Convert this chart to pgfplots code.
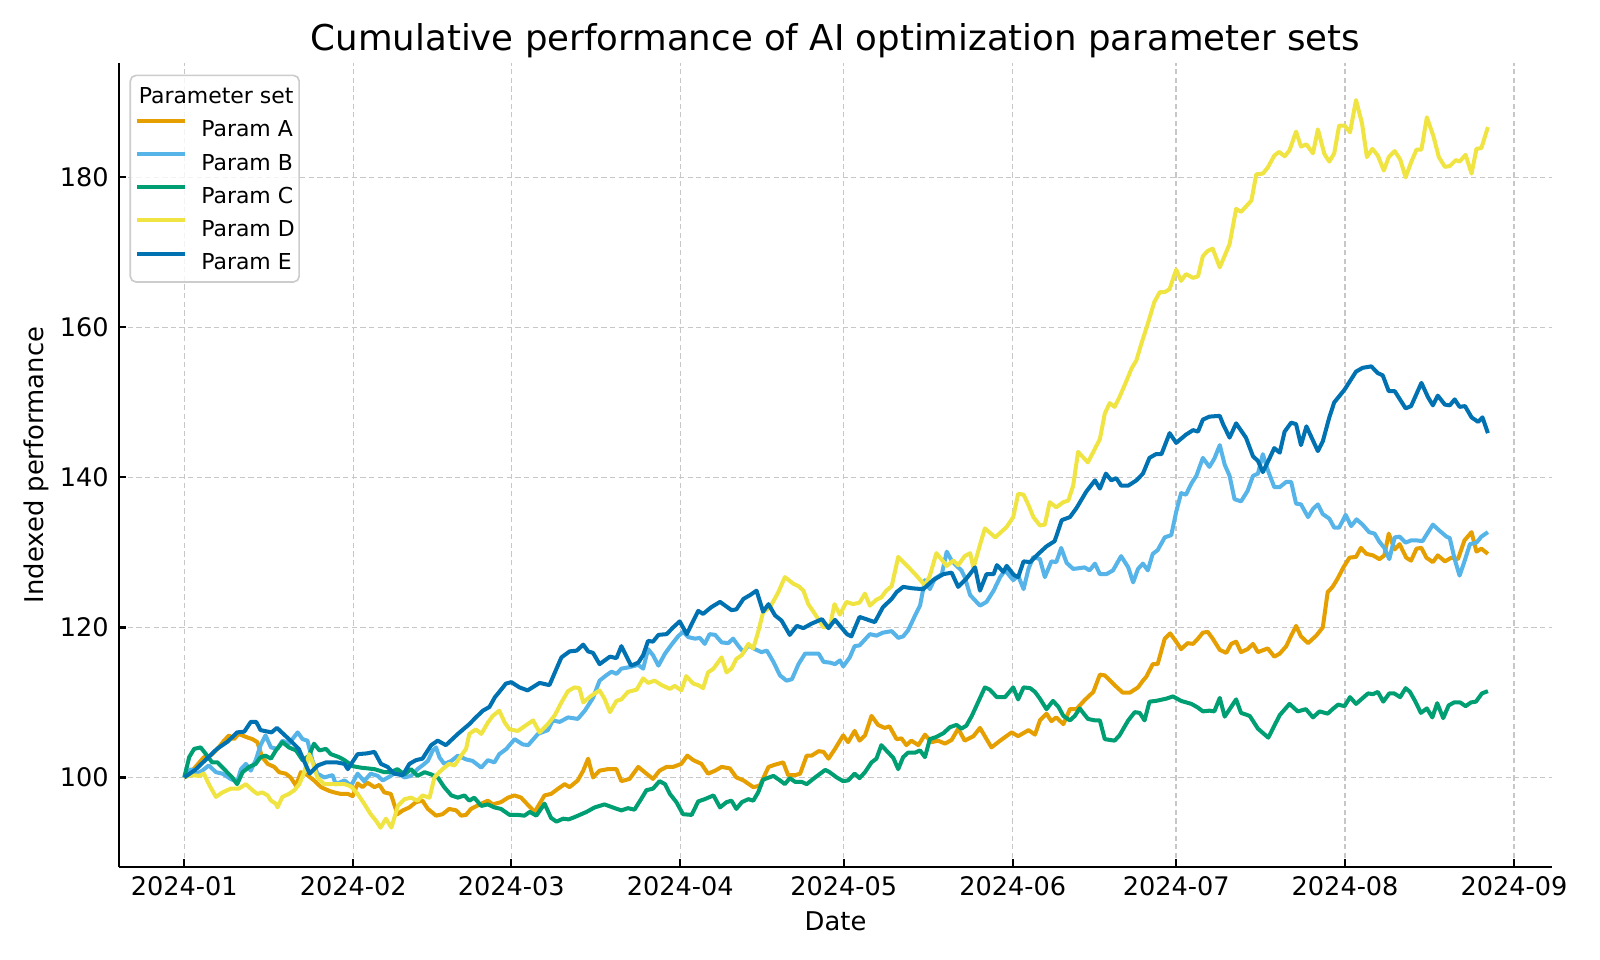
\documentclass[border=0pt]{standalone}
\usepackage{fontspec}
\setmainfont{DejaVu Sans}
\usepackage{pgfplots}
\pgfplotsset{compat=1.18}
\definecolor{cA}{HTML}{E69F00}
\definecolor{cB}{HTML}{56B4E9}
\definecolor{cC}{HTML}{009E73}
\definecolor{cD}{HTML}{F0E442}
\definecolor{cE}{HTML}{0072B2}
\begin{document}
\begin{tikzpicture}
\begin{axis}[
  scale only axis, width=515.8pt, height=289.2pt,
  xmin=-11.95, xmax=250.95, ymin=88.1, ymax=195.2,
  axis x line*=bottom, axis y line*=left,
  axis line style={-, line width=0.8pt, black},
  xtick={0,31,60,91,121,152,182,213,244},
  xticklabels={2024-01,2024-02,2024-03,2024-04,2024-05,2024-06,2024-07,2024-08,2024-09},
  ytick={100,120,140,160,180},
  /pgf/number format/assume math mode=true,
  tick align=inside, major tick length=2.6pt,
  tick style={black, line width=0.8pt},
  ticklabel style={font=\fontsize{9.2}{11}\selectfont, inner sep=0pt},
  xticklabel style={anchor=north, yshift=-3.35pt},
  yticklabel style={anchor=east, xshift=-3.6pt},
  grid=major,
  grid style={black!22, line width=0.5pt, dash pattern=on 1.9pt off 1.2pt},
  xlabel={Date}, ylabel={Indexed performance},
  label style={font=\fontsize{9.3}{11}\selectfont},
  xlabel style={at={(axis description cs:0.5,-0.0681)}, anchor=center},
  ylabel style={at={(axis description cs:-0.0576,0.5)}, anchor=center},
  title={Cumulative performance of AI optimization parameter sets},
  title style={font=\fontsize{12.8}{15}\selectfont, at={(axis description cs:0.5,1.0076)}, anchor=center},
  every axis plot/.append style={line width=1.45pt, line join=round},
  legend image code/.code={\draw[#1] (0pt,2.9pt) -- (17.3pt,2.9pt);},
  legend cell align=left,
  legend style={at={(axis description cs:0.0072,0.986)}, anchor=north west,
    draw=black!20, line width=0.6pt, rounded corners=2pt, fill=white, fill opacity=0.8, text opacity=1,
    font=\fontsize{7.9}{9.5}\selectfont,
    inner xsep=1.6pt, inner ysep=2.3pt, row sep=1.95pt, column sep=0pt,
    nodes={inner sep=0pt, text height=7.9pt, text depth=2.1pt},
    /tikz/every odd column/.append style={column sep=5.2pt}},
]
\addlegendimage{empty legend}
\addlegendentry{\hspace{-22.5pt}Parameter set}

\addplot[cA] coordinates {(0,100) (1.2,100.7) (2.3,101.6) (3.6,102.7) (4.8,102.9) (6.1,103.8) (7.3,104.9) (8.2,105.6) (9.1,105.1) (10,105.8) (11.3,105.4) (12.5,105.1) (13.4,104.7) (14.3,102.7) (15.3,101.8) (16.5,101.4) (17.4,100.7) (18.6,100.5) (19.5,100) (20.5,98.9) (21.4,100.7) (22.6,100.3) (23.8,99.6) (25.1,98.7) (26.6,98.2) (27.5,98) (28.7,97.8) (30,97.8) (30.9,97.5) (31.8,99.2) (32.7,98.7) (33.6,99.3) (34.9,98.7) (35.8,99) (36.7,98) (37.9,97.8) (39.1,95.1) (40.1,95.6) (41.3,96) (42.5,96.7) (43.7,96.9) (44.7,95.8) (46.2,94.9) (47.4,95.1) (48.6,95.8) (49.9,95.6) (50.8,94.9) (51.7,95) (52.6,95.8) (54.2,96.4) (55.7,96.9) (56.6,96.4) (58.1,96.7) (59.4,97.3) (60.6,97.6) (61.8,97.3) (63.1,96.3) (64.3,95.4) (66.1,97.6) (67.3,97.8) (68.6,98.5) (69.8,99.1) (70.7,98.7) (72.2,99.6) (73.2,100.9) (74.1,102.5) (75,100) (76.2,100.9) (77.7,101.1) (79.3,101.1) (80.2,99.5) (81.7,99.8) (83.3,101.4) (84.8,100.5) (86,99.8) (87.2,100.9) (88.5,101.4) (89.7,101.4) (91.2,101.8) (92.3,102.9) (93.4,102.3) (94.9,101.8) (96.1,100.5) (97.4,100.9) (98.6,101.4) (100.1,101.2) (101.3,100) (102.6,99.6) (104.4,98.7) (105.6,98.9) (107.2,101.4) (108.4,101.7) (109.9,102) (110.8,100.3) (112.1,100.3) (113,100.5) (114.2,102.9) (115.1,102.9) (116.4,103.5) (117.3,103.4) (118.2,102.5) (119.4,103.8) (120.9,105.6) (121.8,104.7) (123,106.2) (123.9,104.9) (124.9,105.6) (126.1,108.2) (127.3,107) (128.5,106.6) (129.4,106.8) (130.7,105.1) (131.6,105.2) (132.5,104.3) (133.4,104.9) (134.7,104.3) (135.9,105.7) (137.1,104.7) (138.3,104.9) (139.6,104.5) (140.8,105) (142,106.5) (143.2,104.9) (144.8,105.5) (146,106.6) (148.1,104) (149.7,104.9) (151.8,106) (153,105.5) (154.9,106.3) (156.1,105.7) (157,107.6) (158.2,108.5) (159.1,107.5) (160,108) (161.3,107.1) (162.5,109.1) (163.7,109.1) (165.2,110.3) (166.8,111.4) (168,113.7) (168.9,113.6) (170.7,112.3) (172.2,111.3) (173.5,111.3) (175,112) (175.9,112.9) (176.5,113.4) (177.7,115.1) (178.6,115.1) (179.9,118.5) (180.9,119.2) (182,118.1) (182.9,117.1) (184.1,117.9) (185.1,117.8) (186,118.5) (186.9,119.3) (187.8,119.4) (188.7,118.5) (190,117) (191.2,116.6) (192.1,117.8) (193,118.1) (193.9,116.7) (195.1,117.1) (196.1,117.8) (197,116.7) (198.8,117.2) (200,116.1) (201,116.5) (202.2,117.5) (203.1,118.9) (204,120.2) (204.9,118.8) (206.2,117.9) (207.7,118.9) (208.9,120) (209.8,124.7) (210.7,125.4) (211.7,126.6) (212.6,127.9) (213.8,129.3) (215,129.4) (215.9,130.6) (216.9,129.8) (218.1,129.6) (219.3,129.1) (220.2,129.6) (221,132.5) (222.1,130.4) (223,131.1) (224.2,129.3) (225.1,128.9) (226.1,130.5) (227,130.6) (227.9,129.3) (229.1,128.7) (230,129.6) (231.3,128.8) (232.5,129.3) (233.7,129.1) (234.9,131.6) (236.2,132.7) (237.1,130.1) (238,130.5) (239.2,129.8)};
\addlegendentry{Param A}

\addplot[cB] coordinates {(0,100) (1.2,101.1) (2.3,100.5) (3.3,100.9) (4.5,101.6) (5.8,100.7) (7,100.5) (8.5,99.8) (9.7,99.4) (10.4,101.1) (11.3,101.8) (12.2,100.9) (13.1,102.3) (14,104.3) (14.9,105.6) (15.9,104) (17.1,103.8) (18,104.9) (19.2,104.5) (20.8,106) (21.7,105.1) (22.6,104.9) (23.5,102.3) (24.4,100.5) (25.7,100) (27.2,100.3) (27.8,99.1) (29.4,99.6) (30.6,98.9) (31.8,100.5) (33,99.5) (34.2,100.5) (35.5,100.2) (36.4,99.6) (37.9,100.2) (38.8,100.7) (40.4,100) (41.6,100.2) (42.8,101.1) (43.7,101.6) (44.7,102.2) (45.6,103.6) (46.2,104) (46.8,102.7) (47.7,101.8) (49,102.2) (50.2,102.9) (51.7,102.4) (52.9,102.2) (54.5,101.3) (55.7,102.3) (56.9,102) (57.8,103.1) (59.1,103.8) (60.6,105.1) (62.1,104.4) (63.1,104.3) (64.9,105.8) (66.7,106.3) (67.6,107.6) (68.9,107.4) (70.4,108) (72.2,107.8) (73.5,108.9) (75,110.6) (76.2,112.9) (77.4,113.6) (78.4,114.1) (79.3,113.8) (80.2,114.5) (81.7,114.7) (83.3,115) (84.2,114.5) (85.1,117.1) (86,116.3) (87,114.9) (88.2,116.5) (89.4,117.7) (90.6,118.8) (91.5,119.4) (92.5,118.7) (93.7,118.5) (94.6,118.6) (95.5,117.8) (96.4,119.1) (97.4,119) (98.6,118) (99.8,117.9) (100.7,118.5) (101.6,117.6) (102.6,116.7) (103.5,117.6) (104.7,117.1) (105.9,116.7) (106.9,116.9) (108.1,115.4) (109.3,113.6) (110.5,112.9) (111.5,113.1) (112.7,115.1) (113.9,116.5) (115.1,116.5) (116.4,116.5) (117.3,115.4) (118.5,115.3) (119.4,115.1) (120.3,115.6) (120.9,114.8) (122.1,116) (123,117.5) (123.9,117.6) (125.8,119.1) (127,118.9) (128.2,119.3) (129.8,119.5) (131,118.6) (131.9,118.8) (132.8,119.6) (134.1,121.6) (135,122.9) (135.9,126.3) (136.8,125.1) (137.7,126.5) (139,127.1) (139.9,130.1) (140.8,128.9) (141.7,128.2) (142.6,127.6) (143.2,126.7) (144.2,124.3) (146,122.9) (147.2,123.4) (148.5,124.9) (149.7,126.7) (150.6,127.6) (152.1,126.3) (153,126.9) (154,125.1) (154.9,127.8) (155.8,129.4) (157,129.1) (157.9,126.7) (159.1,128.8) (160,128.7) (160.9,130.6) (161.9,128.6) (163.1,127.8) (164.3,127.9) (165.2,128) (166.1,127.6) (167.1,128.5) (168,127.1) (169.2,127.1) (170.4,127.6) (171.9,129.5) (173.2,128) (174.1,126) (175,127.8) (175.9,128.5) (176.8,127.6) (177.7,129.8) (178.6,130.3) (179.9,132) (181.1,132.3) (182,135.4) (182.9,137.9) (183.8,137.7) (184.8,139.2) (185.7,140.2) (186.9,142.6) (188.1,141.4) (189,142.5) (190,144.3) (190.9,141.7) (191.8,140.2) (192.7,137.1) (193.9,136.8) (195.1,138.2) (196.1,140.2) (197,140.5) (197.9,143.1) (198.8,141) (200,138.7) (201,138.7) (202.2,139.4) (203.1,139.4) (204,136.5) (204.9,136.4) (206.2,134.7) (207.1,135.8) (208,136.4) (208.9,135.1) (210.1,134.5) (211,133.3) (211.9,133.3) (213.1,135) (214.1,133.5) (215.1,134.4) (216.2,133.7) (217.4,132.7) (218.4,132.5) (219.3,131.4) (220.2,130.6) (221.1,129.1) (222.1,132) (223,132.1) (224.1,131.3) (225.1,131.6) (226.1,131.6) (227.2,131.5) (229.1,133.7) (230.3,132.9) (231.6,132.1) (232.2,131.9) (233.1,129.1) (234,126.9) (234.9,128.8) (235.9,131.1) (237.1,131.3) (238,132.1) (239.2,132.7)};
\addlegendentry{Param B}

\addplot[cC] coordinates {(0,100) (0.9,102.7) (1.8,103.8) (3,104) (4.2,102.9) (5.1,102) (6.1,102) (7.3,101.1) (8.8,100) (9.7,99.1) (10.7,100.7) (11.9,101.4) (13.1,101.8) (14,102.7) (14.9,102.9) (15.9,102.5) (16.8,103.6) (18,104.7) (19.2,104) (20.5,103.6) (21.7,102.3) (22.9,102.9) (23.8,104.5) (24.8,103.6) (26,103.8) (26.9,103.1) (28.4,102.7) (29.4,102.3) (30.9,101.5) (32.4,101.3) (34.9,101.1) (36.7,100.7) (37.9,100.7) (39.1,101.1) (40.4,100.4) (41.6,101.1) (42.8,100.2) (44.1,100.7) (45.3,100.4) (46.5,100) (47.7,98.7) (49,97.6) (50.2,97.3) (51.4,97.6) (52.3,96.9) (53.2,97.3) (54.5,96.2) (55.7,96.4) (56.9,96) (58.1,95.8) (59.7,95) (61.2,95) (62.4,94.9) (63.4,95.4) (64.6,94.9) (66.1,96.5) (67.3,94.6) (68.3,94.1) (69.5,94.5) (70.5,94.4) (71.6,94.7) (73.8,95.4) (75.3,96) (77.1,96.4) (79,95.9) (80.2,95.6) (81.4,95.9) (82.6,95.7) (83.9,97.2) (84.8,98.3) (86,98.5) (87.2,99.5) (88.2,99.1) (89.1,97.8) (90.3,96.7) (91.5,95.1) (93.1,95) (94.3,96.8) (95.5,97.1) (97.1,97.6) (98.3,96) (99.5,96.7) (100.4,96.9) (101.3,95.8) (102.3,96.7) (103.5,97.1) (104.4,96.9) (105.3,98) (106.2,99.7) (108.1,100.2) (109.3,99.6) (110.2,99.1) (111.1,99.9) (112.1,99.4) (113.3,99.4) (114.2,99.1) (115.4,99.8) (117.6,101) (118.4,100.7) (119.7,100) (120.9,99.5) (121.8,99.6) (123,100.5) (123.9,99.9) (124.9,100.7) (126.1,102) (127,102.5) (127.9,104.3) (128.8,103.6) (130.1,102.6) (131,101.1) (131.9,102.7) (132.8,103.3) (134.1,103.3) (135,103.6) (135.9,102.7) (136.8,105.1) (138,105.4) (139.3,105.9) (140.5,106.7) (141.7,107) (142.6,106.5) (143.5,106.9) (144.5,108.2) (145.7,110.1) (146.9,112) (147.8,111.7) (149.1,110.7) (150.6,110.7) (152.1,112) (153,110.4) (154,112) (155.2,111.9) (156.1,111.4) (157,110.5) (158.2,109.1) (159.4,110.2) (160.4,109.4) (161.3,108.2) (162.5,107.6) (163.4,108.2) (164.3,109.2) (165.8,107.8) (167.1,107.6) (168,107.6) (168.9,105.1) (170.7,104.9) (171.6,105.6) (173.2,107.6) (174.4,108.7) (175.3,108.6) (176.2,107.6) (177.1,110.1) (178.3,110.2) (180.2,110.5) (181.4,110.8) (182.9,110.2) (184.8,109.8) (186,109.3) (186.9,108.8) (188.1,108.9) (189,108.8) (190,110.6) (190.9,108.1) (193,110.4) (193.9,108.6) (195.5,108.2) (197,106.5) (198.9,105.3) (201,108.3) (202.8,109.8) (204.3,108.8) (205.8,109.1) (207.1,108) (208.3,108.8) (209.8,108.5) (210.7,109.1) (211.7,109.7) (212.9,109.5) (213.9,110.7) (215,109.8) (217.2,111.2) (218.1,111.1) (219,111.4) (220,110.1) (221.1,111.2) (222,111.2) (223.1,110.7) (224.1,111.9) (224.9,111.4) (225.9,110.1) (226.9,108.6) (228,109.2) (229,108) (229.9,109.9) (231,107.9) (232,109.6) (233,110) (234.1,110) (235.1,109.5) (236.1,110) (237,110.1) (238.1,111.2) (239.2,111.5)};
\addlegendentry{Param C}

\addplot[cD] coordinates {(0,100) (1.2,100.3) (2.7,100.2) (3.6,100.5) (4.5,99.1) (5.8,97.4) (7,98) (8.5,98.5) (10,98.5) (11.3,99.1) (12.5,98.3) (13.4,97.8) (14.3,98) (15.3,97.6) (15.9,96.9) (16.8,96.5) (17.1,96) (18,97.4) (19.2,97.8) (20.2,98.3) (21.1,99.1) (22,100.7) (22.9,103.1) (23.5,102.1) (24.4,100) (25.7,99.1) (26.9,99.1) (28.1,99.1) (29.4,99.1) (30.6,98.8) (31.8,97.8) (33,96.5) (34.2,95.1) (35.2,94.2) (36,93.3) (37,94.5) (38,93.3) (39.2,96.2) (40.4,97.1) (41.6,97.3) (42.8,96.9) (43.7,97.6) (45,97.3) (45.9,100) (46.8,100.7) (47.7,101.3) (48.6,101.8) (49.6,101.6) (50.8,102.9) (51.7,103.8) (52.3,105.8) (53.5,106.4) (54.5,105.8) (55.7,107.3) (56.6,108.2) (57.8,108.9) (58.8,107.3) (59.7,106.4) (61.2,106.2) (62.4,106.8) (64,107.6) (65.2,106) (66.7,107.1) (68,108.3) (69.2,110) (70.4,111.5) (71.6,112) (72.5,111.9) (73.2,110) (74.7,110.9) (76.2,111.6) (77.1,110.5) (78.1,108.7) (79.3,110.2) (80.2,110.4) (81.4,111.4) (83,111.7) (84.2,113.2) (85.1,112.6) (86.3,112.9) (87.6,112.3) (89.1,111.8) (90,112.2) (91.2,111.6) (92.1,113.5) (93.4,112.5) (94.3,112.3) (95.2,111.9) (96.1,114) (97.1,114.5) (98.6,116) (99.5,114) (100.4,114.5) (101.3,115.8) (102.3,116.3) (103.5,117.8) (104.4,117.2) (105.3,119.4) (106.2,122) (107.5,122.7) (109,124.7) (110.2,126.7) (111.8,125.8) (112.7,125.5) (113.6,124.9) (114.5,123.1) (115.7,121.8) (117.3,120) (118.5,120.2) (119.3,123.1) (120.3,121.7) (121.5,123.4) (122.7,123.1) (123.9,123.3) (124.9,124.5) (125.8,122.9) (127,123.7) (127.9,124) (128.8,124.9) (129.8,125.5) (131,129.4) (132.5,128.3) (134.1,127.1) (135.9,125.6) (136.8,126.9) (138,129.9) (139.9,128.2) (141.1,128.9) (142,128.3) (143.2,129.5) (144.2,129.9) (144.8,127.9) (146,131) (146.9,133.2) (148.8,132) (150.9,133.4) (152.1,134.7) (153,137.8) (154,137.7) (154.9,136.3) (155.8,134.7) (157,133.6) (157.9,133.7) (158.8,136.7) (160,136) (161.3,136.7) (162.2,136.9) (163.1,138.9) (164,143.4) (165.8,142) (166.8,143.4) (168,145.1) (168.9,148.5) (169.8,149.9) (170.7,149.4) (171.6,150.7) (172.9,152.9) (173.8,154.5) (174.7,155.6) (175.6,157.8) (176.8,160.5) (178,163.4) (179,164.7) (179.9,164.7) (180.8,165.1) (182,167.7) (182.9,166.2) (183.8,167.1) (185.1,166.6) (186,166.8) (186.9,169.5) (187.8,170.2) (188.7,170.5) (190,168) (191.8,171.1) (193,175.8) (193.9,175.4) (195.8,176.9) (196.7,180.4) (197.9,180.5) (198.8,181.3) (200,182.9) (200.9,183.4) (201.9,182.8) (202.8,183.6) (204,186.1) (204.9,184.1) (205.9,184.4) (207.1,183.2) (208,186.4) (209.2,183.1) (210.1,182.1) (211,183.2) (211.9,186.9) (212.9,186.9) (213.9,186) (215,190.3) (216.1,187.2) (217,182.7) (218,183.8) (219,182.9) (220.1,180.9) (221,182.7) (222.1,183.5) (223.1,182.4) (224.1,180) (225.1,182) (226.1,183.7) (227,183.7) (228,188) (229.2,185.5) (230.2,182.7) (231.3,181.4) (232.2,181.5) (233.3,182.3) (234,182.1) (235.1,183) (236.2,180.5) (237.1,183.8) (238,183.9) (239.2,186.7)};
\addlegendentry{Param D}

\addplot[cE] coordinates {(0,100) (2,101) (4,102.4) (6,103.8) (8,104.8) (9.7,106) (11,106.1) (12.2,107.4) (13.2,107.4) (14,106.3) (16,106) (17,106.6) (19.5,104.9) (21,103.8) (23,100.5) (24.5,101.6) (26,102) (28,102) (29.4,101.8) (30,101.1) (31.8,103.1) (33.5,103.2) (34.9,103.4) (36.1,101.8) (37.3,101.4) (38.5,100.5) (40.1,100.3) (41.3,101.8) (42.5,102.3) (43.7,102.5) (45.3,104.3) (46.5,104.9) (48,104.3) (50.2,105.8) (52.3,107.1) (53.5,108) (54.8,108.9) (56,109.4) (57,110.7) (57.8,111.4) (59,112.5) (60,112.7) (61.5,112) (63,111.6) (65.2,112.6) (67,112.3) (68.3,114.5) (69.2,116) (70.7,116.8) (72,116.9) (73.2,117.7) (74.1,116.8) (75,116.6) (76.2,115.1) (78.1,116.1) (79.3,115.9) (80.2,117.5) (82,114.9) (83.3,115.3) (84.2,116.3) (85.1,118.2) (86,118.1) (87,119) (88.5,119.1) (89.7,120) (90.9,120.8) (92.2,119.1) (93.4,120.9) (94.3,122.2) (95.2,121.8) (96.7,122.7) (98.3,123.4) (100.4,122.3) (101.3,122.4) (102.6,123.8) (103.8,124.3) (105,124.9) (106.2,122.1) (107.2,123.1) (108.4,121.6) (109.6,120.9) (111.1,119) (112.4,120.2) (113.6,119.9) (115.1,120.5) (117,121.1) (118.2,119.9) (119.4,121) (121.6,119.1) (122.4,118.8) (123.9,121.4) (126.7,120.7) (128.2,122.7) (129.8,123.8) (130.7,124.7) (131.9,125.4) (133.7,125.2) (135.6,125.1) (137.4,126.3) (139.3,127.1) (140.8,127.3) (142,125.4) (143.5,126.5) (145.1,128) (146,124.9) (147.2,127.1) (148.5,127.1) (149.1,128.3) (150.3,127.4) (150.9,128.2) (152.2,127) (153,126.7) (154,128.8) (155.2,128.7) (156.7,129.8) (158.2,130.8) (159.7,131.5) (161,134.3) (162.5,134.7) (163.7,135.9) (165.5,138.1) (167.1,139.6) (168,138.5) (169.1,140.5) (170.1,139.6) (171,139.9) (171.9,138.9) (173.2,138.9) (174.7,139.6) (175.9,140.5) (177.1,142.6) (178.3,143.1) (179.3,143.1) (180.8,145.9) (182,144.6) (183.8,145.7) (185.1,146.3) (186,146.1) (186.9,147.7) (188.1,148.1) (190,148.2) (190.6,147.1) (191.8,145.3) (193,147.2) (194.8,145.3) (196.1,142.8) (197,142.2) (197.9,140.7) (199.1,142.5) (200,143.9) (201,143.3) (201.9,146.1) (203.1,147.3) (204,147.1) (204.9,144.3) (205.9,146.8) (208,143.5) (208.9,144.8) (210.1,148) (211,150) (212.9,151.7) (215,154.1) (216.2,154.6) (217.8,154.8) (219,153.9) (219.9,153.6) (221,151.5) (222.1,151.5) (224.1,149.2) (225.1,149.5) (227,152.6) (228.2,150.7) (229.1,149.6) (230,150.9) (231.3,149.7) (232.2,149.6) (233.1,150.4) (234,149.4) (235,149.5) (236.2,148) (237.4,147.4) (238.2,148) (239.2,145.9)};
\addlegendentry{Param E}
\end{axis}
\pgfresetboundingbox
\path[use as bounding box] (-42.9pt,-33.6pt) rectangle (533.1pt,312.0pt);
\end{tikzpicture}
\end{document}
